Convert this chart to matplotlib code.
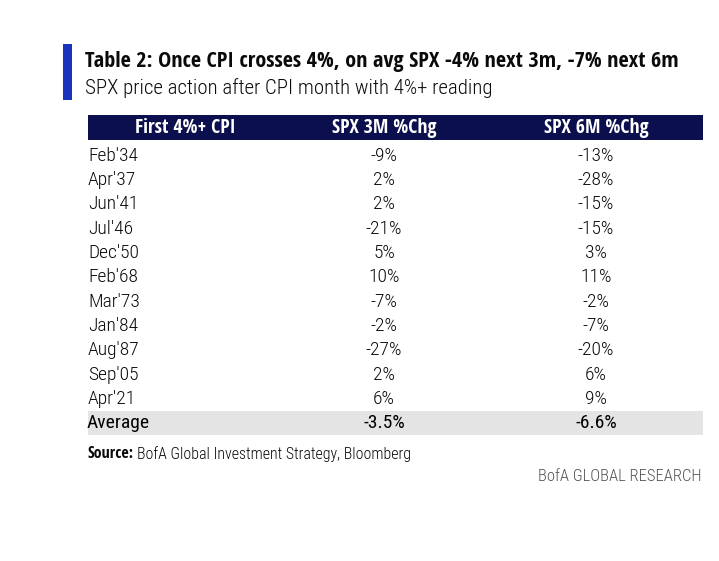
import matplotlib
matplotlib.use("Agg")
import matplotlib.pyplot as plt
from matplotlib.font_manager import FontProperties
from matplotlib.patches import Rectangle

# ---------------- data ----------------
title = "Table 2: Once CPI crosses 4%, on avg SPX -4% next 3m, -7% next 6m"
subtitle = "SPX price action after CPI month with 4%+ reading"
col_headers = ["First 4%+ CPI", "SPX 3M %Chg", "SPX 6M %Chg"]
months = ["Feb'34", "Apr'37", "Jun'41", "Jul'46", "Dec'50", "Feb'68",
          "Mar'73", "Jan'84", "Aug'87", "Sep'05", "Apr'21"]
chg_3m = ["-9%", "2%", "2%", "-21%", "5%", "10%", "-7%", "-2%", "-27%", "2%", "6%"]
chg_6m = ["-13%", "-28%", "-15%", "-15%", "3%", "11%", "-2%", "-7%", "-20%", "6%", "9%"]
avg_label = "Average"
avg_3m = "-3.5%"
avg_6m = "-6.6%"
source_bold = "Source:"
source_text = "BofA Global Investment Strategy, Bloomberg"
brand = "BofA GLOBAL RESEARCH"

# ---------------- fonts ----------------
def light(size, weight=300):
    return FontProperties(family="Roboto Condensed", weight=weight, stretch="condensed", size=size)

def bold(size):
    return FontProperties(family="Open Sans Condensed", weight=700, stretch="condensed", size=size)

# ---------------- figure ----------------
W, H = 719, 561
fig = plt.figure(figsize=(W / 100, H / 100), dpi=100)
ax = fig.add_axes([0, 0, 1, 1])
ax.set_xlim(0, W)
ax.set_ylim(H, 0)
ax.axis("off")

NAVY = "#0b0f4d"
BLUE = "#1b32be"
TXT = "#0a0a0a"

# accent bar + titles
ax.add_patch(Rectangle((63, 44), 9, 56, color=BLUE, lw=0))
ax.text(85, 61, title, fontproperties=bold(16), color=TXT, va="center", ha="left")
ax.text(85, 88, subtitle, fontproperties=light(15), color=TXT, va="center", ha="left")

# table geometry
x0, x1 = 88, 703
col_x = [185, 384, 596]
hdr_top, hdr_bot = 115, 140
row0 = 155.5
step = 24.35

ax.add_patch(Rectangle((x0, hdr_top), x1 - x0, hdr_bot - hdr_top, color=NAVY, lw=0))
for cx, h in zip(col_x, col_headers):
    ax.text(cx, (hdr_top + hdr_bot) / 2, h, fontproperties=bold(14.2),
            color="white", ha="center", va="center")

body = light(14)
for i, (m, a, b) in enumerate(zip(months, chg_3m, chg_6m)):
    y = row0 + i * step
    ax.text(x0, y, m, fontproperties=body, color=TXT, ha="left", va="center")
    ax.text(col_x[1], y, a, fontproperties=body, color=TXT, ha="center", va="center")
    ax.text(col_x[2], y, b, fontproperties=body, color=TXT, ha="center", va="center")

ya = row0 + len(months) * step
ax.add_patch(Rectangle((x0, ya - 12), x1 - x0, 24, color="#e4e4e4", lw=0))
avgp = light(14, weight=400)
ax.text(x0 - 1, ya, avg_label, fontproperties=avgp, color="#000000", ha="left", va="center")
ax.text(col_x[1], ya, avg_3m, fontproperties=avgp, color="#000000", ha="center", va="center")
ax.text(col_x[2], ya, avg_6m, fontproperties=avgp, color="#000000", ha="center", va="center")

# source + brand
t = ax.text(x0 - 1, 454, source_bold, fontproperties=bold(11.6), color=TXT, ha="left", va="center")
fig.canvas.draw()
bb = t.get_window_extent()
xe = ax.transData.inverted().transform((bb.x1, bb.y0))[0]
ax.text(xe + 4, 454, source_text, fontproperties=light(11.4), color=TXT, ha="left", va="center")
ax.text(x1 - 2, 476, brand, fontproperties=light(12), color="#555555", ha="right", va="center")

fig.savefig("out.png", dpi=100)
